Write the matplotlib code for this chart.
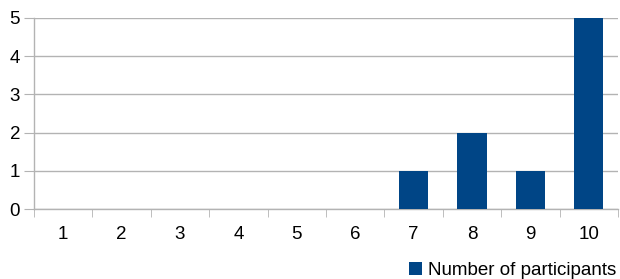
import matplotlib
matplotlib.use("Agg")
import matplotlib.pyplot as plt
from matplotlib.patches import Patch

plt.rcParams["font.family"] = ["Liberation Sans", "DejaVu Sans"]

categories = ["1", "2", "3", "4", "5", "6", "7", "8", "9", "10"]
participants = [0, 0, 0, 0, 0, 0, 1, 2, 1, 5]

BAR_COLOR = "#004586"
GRID_COLOR = "#b3b3b3"
FONT_SIZE = 13.5

fig = plt.figure(figsize=(6.2, 2.79), dpi=100)
ax = fig.add_axes([34 / 620, 70 / 279, 584 / 620, 191 / 279])

positions = list(range(len(categories)))
ax.bar(positions, participants, width=0.5, color=BAR_COLOR, zorder=3)

ax.set_xlim(-0.5, len(categories) - 0.5)
ax.set_ylim(0, 5)
ax.set_yticks(range(6))
ax.set_xticks(positions)
ax.set_xticklabels(categories)
ax.set_xticks([p - 0.5 for p in positions] + [len(categories) - 0.5], minor=True)

ax.yaxis.grid(True, color=GRID_COLOR, linewidth=1, zorder=0)
for side in ("top", "right"):
    ax.spines[side].set_visible(False)
for side in ("left", "bottom"):
    ax.spines[side].set_color(GRID_COLOR)
    ax.spines[side].set_linewidth(1)

ax.tick_params(axis="y", which="major", length=7, color=GRID_COLOR, labelsize=FONT_SIZE, pad=3)
ax.tick_params(axis="x", which="major", length=0, labelsize=FONT_SIZE, pad=12)
ax.tick_params(axis="x", which="minor", length=6, color=GRID_COLOR)

fig.legend(
    handles=[Patch(facecolor=BAR_COLOR, label="Number of participants")],
    loc="lower right",
    bbox_to_anchor=(1.0, -0.015),
    frameon=False,
    fontsize=FONT_SIZE,
    handlelength=0.7,
    handleheight=0.7,
    handletextpad=0.3,
    borderpad=0.2,
    borderaxespad=0.0,
)

fig.savefig("out.png", dpi=100)
